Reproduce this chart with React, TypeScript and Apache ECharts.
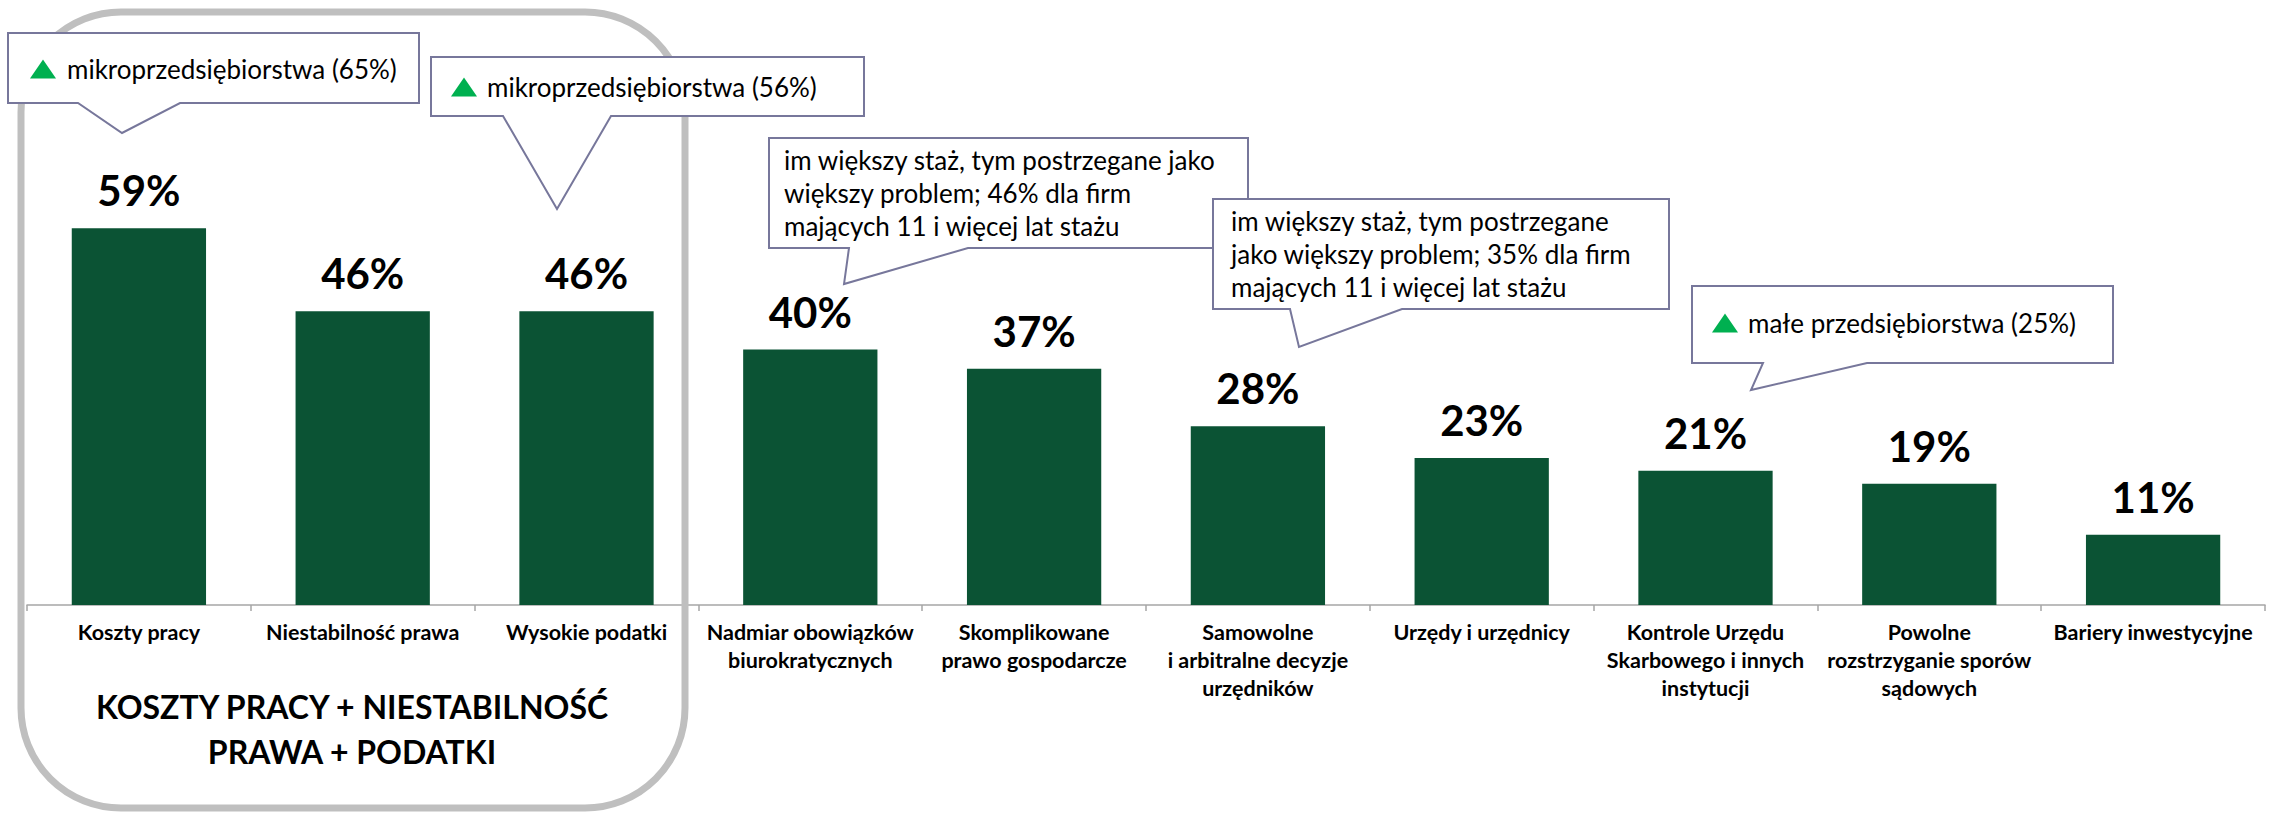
import React, { useEffect, useRef } from "react";
import * as echarts from "echarts";

// ---------- data ----------
const categories = [
  "Koszty pracy",
  "Niestabilność prawa",
  "Wysokie podatki",
  "Nadmiar obowiązków\nbiurokratycznych",
  "Skomplikowane\nprawo gospodarcze",
  "Samowolne\ni arbitralne decyzje\nurzędników",
  "Urzędy i urzędnicy",
  "Kontrole Urzędu\nSkarbowego i innych\ninstytucji",
  "Powolne\nrozstrzyganie sporów\nsądowych",
  "Bariery inwestycyjne",
];
const values = [59, 46, 46, 40, 37, 28, 23, 21, 19, 11];
const calloutTexts = [
  "mikroprzedsiębiorstwa (65%)",
  "mikroprzedsiębiorstwa (56%)",
  "im większy staż, tym postrzegane jako\nwiększy problem; 46% dla firm\nmających 11 i więcej lat stażu",
  "im większy staż, tym postrzegane\njako większy problem; 35% dla firm\nmających 11 i więcej lat stażu",
  "małe przedsiębiorstwa (25%)",
];
const calloutHasArrow = [true, true, false, false, true];
const groupTitle = "KOSZTY PRACY + NIESTABILNOŚĆ\nPRAWA + PODATKI";

// ---------- layout / style ----------
const W = 2280;
const H = 813;
const BAR = "#0b5334";
const CALLOUT_STROKE = "#77779b";
const ARROW_GREEN = "#00b050";
const FONT = "Lato";

const CALLOUT_LAYOUT = [
  { x: 8, y: 33, w: 411, h: 70, bx1: 78, bx2: 180, tx: 122, ty: 133, textX: 67, textY: 69, triX: 30 },
  { x: 431, y: 57, w: 433, h: 59, bx1: 503, bx2: 611, tx: 557, ty: 209, textX: 487, textY: 87, triX: 451 },
  { x: 769, y: 138, w: 479, h: 110, bx1: 849, bx2: 968, tx: 844, ty: 284, textX: 784, textY: 193, triX: 0 },
  { x: 1213, y: 199, w: 456, h: 110, bx1: 1290, bx2: 1402, tx: 1299, ty: 347, textX: 1231, textY: 254, triX: 0 },
  { x: 1692, y: 286, w: 421, h: 77, bx1: 1763, bx2: 1867, tx: 1751, ty: 390, textX: 1748, textY: 323, triX: 1712 },
];

function buildGraphic() {
  const els: any[] = [];
  els.push({
    type: "rect",
    z: 1,
    shape: { x: 21, y: 12, width: 664, height: 796, r: 100 },
    style: { fill: "none", stroke: "#bfbfbf", lineWidth: 7 },
    silent: true,
  });
  els.push({
    type: "text",
    z: 5,
    x: 352,
    y: 729,
    style: {
      text: groupTitle,
      fontFamily: FONT,
      fontWeight: "bold",
      fontSize: 32,
      lineHeight: 45,
      fill: "#000",
      textAlign: "center",
      textVerticalAlign: "middle",
    },
  });
  CALLOUT_LAYOUT.forEach((c, i) => {
    const z = 10 + i * 3;
    els.push({
      type: "polygon",
      z,
      shape: {
        points: [
          [c.x, c.y],
          [c.x + c.w, c.y],
          [c.x + c.w, c.y + c.h],
          [c.bx2, c.y + c.h],
          [c.tx, c.ty],
          [c.bx1, c.y + c.h],
          [c.x, c.y + c.h],
        ],
      },
      style: { fill: "#ffffff", stroke: CALLOUT_STROKE, lineWidth: 2 },
    });
    if (calloutHasArrow[i]) {
      const b = c.textY + 9.5;
      els.push({
        type: "polygon",
        z: z + 1,
        shape: { points: [[c.triX, b], [c.triX + 26, b], [c.triX + 13, b - 19]] },
        style: { fill: ARROW_GREEN, stroke: "none" },
      });
    }
    els.push({
      type: "text",
      z: z + 2,
      x: c.textX,
      y: c.textY,
      style: {
        text: calloutTexts[i],
        fontFamily: FONT,
        fontSize: 26,
        lineHeight: 33,
        fill: "#000",
        textAlign: "left",
        textVerticalAlign: "middle",
      },
    });
  });
  return els;
}

export default function App() {
  const ref = useRef<HTMLDivElement>(null);
  useEffect(() => {
    if (!ref.current) return;
    const chart = echarts.init(ref.current, null, { renderer: "svg" });
    chart.setOption({
      animation: false,
      backgroundColor: "#ffffff",
      grid: { left: 27, right: 15, top: 94, bottom: 208, containLabel: false },
      xAxis: {
        type: "category",
        data: categories,
        axisLine: { lineStyle: { color: "#a6a6a6", width: 1.5 } },
        axisTick: { show: true, length: 6, lineStyle: { color: "#a6a6a6", width: 1.5 } },
        axisLabel: {
          interval: 0,
          margin: 13,
          color: "#000",
          fontFamily: FONT,
          fontWeight: "bold",
          fontSize: 21.5,
          lineHeight: 28,
        },
      },
      yAxis: { type: "value", min: 0, max: 80, show: false, splitLine: { show: false } },
      series: [
        {
          type: "bar",
          data: values,
          barWidth: "60%",
          itemStyle: { color: BAR },
          label: {
            show: true,
            position: "top",
            distance: 17,
            formatter: "{c}%",
            fontFamily: FONT,
            fontWeight: "bold",
            fontSize: 42,
            color: "#000",
          },
        },
      ],
      graphic: buildGraphic(),
    });
    return () => chart.dispose();
  }, []);
  return (
    <div
      ref={ref}
      style={{ position: "absolute", left: 0, top: 0, width: W, height: H }}
    />
  );
}
